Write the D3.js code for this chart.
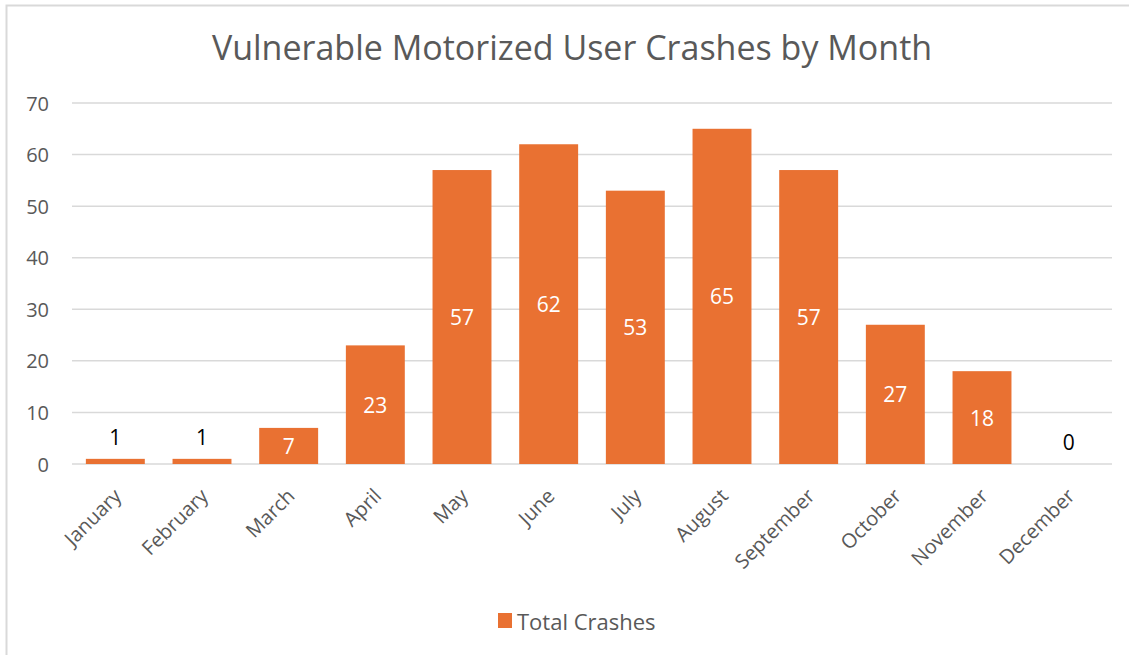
<!DOCTYPE html>
<html>
<head>
<meta charset="utf-8">
<script src="https://cdn.jsdelivr.net/npm/d3@7"></script>
<style>
  body { margin: 0; background: #fff; }
  svg { display: block; font-family: "Open Sans", "Liberation Sans", sans-serif; }
</style>
</head>
<body>
<div class="chart"></div>
<script>
// data
const months = ["January", "February", "March", "April", "May", "June",
  "July", "August", "September", "October", "November", "December"];
const crashes = [1, 1, 7, 23, 57, 62, 53, 65, 57, 27, 18, 0];
const yTicks = [0, 10, 20, 30, 40, 50, 60, 70];
const seriesName = "Total Crashes";
const title = "Vulnerable Motorized User Crashes by Month";

const W = 1129, H = 655;
const margin = { top: 103, right: 17, bottom: 191, left: 72 };
const width = W - margin.left - margin.right,
  height = H - margin.top - margin.bottom;
const barColor = "#e97132";

const svg = d3.select(".chart").append("svg")
  .attr("width", W)
  .attr("height", H);

// chart frame (only top and left edges fall inside the view)
svg.append("rect")
  .attr("x", 6.5).attr("y", 5.5)
  .attr("width", W + 20).attr("height", H + 20)
  .attr("fill", "none")
  .attr("stroke", "#d9d9d9")
  .attr("stroke-width", 2);

svg.append("text")
  .attr("x", 572)
  .attr("y", 60)
  .attr("text-anchor", "middle")
  .attr("font-size", "34px")
  .attr("fill", "#595959")
  .text(title);

const x = d3.scaleBand().domain(months).range([0, width]).paddingInner(0.32).paddingOuter(0.16);
const y = d3.scaleLinear().domain([0, 70]).range([height, 0]);

const g = svg.append("g")
  .attr("transform", "translate(" + margin.left + "," + margin.top + ")");

// gridlines
g.append("g")
  .selectAll("line")
  .data(yTicks)
  .enter()
  .append("line")
  .attr("x1", 0).attr("x2", width)
  .attr("y1", d => y(d)).attr("y2", d => y(d))
  .attr("stroke", "#d9d9d9")
  .attr("stroke-width", 1.5);

// y tick labels
g.append("g")
  .selectAll("text")
  .data(yTicks)
  .enter()
  .append("text")
  .attr("x", -23)
  .attr("y", d => y(d))
  .attr("text-anchor", "end")
  .attr("dominant-baseline", "central")
  .attr("font-size", "20px")
  .attr("fill", "#595959")
  .text(d => d);

// bars
const data = months.map((m, i) => ({ month: m, value: crashes[i] }));
g.append("g")
  .selectAll("rect")
  .data(data)
  .enter()
  .append("rect")
  .attr("x", d => x(d.month))
  .attr("y", d => y(d.value))
  .attr("width", x.bandwidth())
  .attr("height", d => height - y(d.value))
  .attr("fill", barColor);

// data labels: inside bar when it fits, above otherwise
g.append("g")
  .selectAll("text")
  .data(data)
  .enter()
  .append("text")
  .attr("x", d => x(d.month) + x.bandwidth() / 2)
  .attr("y", d => d.value >= 5 ? (y(d.value) + height) / 2 : y(d.value) - 22)
  .attr("text-anchor", "middle")
  .attr("dominant-baseline", "central")
  .attr("font-size", "21px")
  .attr("fill", d => d.value >= 5 ? "#ffffff" : "#000000")
  .text(d => d.value);

// x labels, rotated
g.append("g")
  .selectAll("text")
  .data(months)
  .enter()
  .append("text")
  .attr("transform", d => "translate(" + (x(d) + x.bandwidth() / 2 + 2) + "," + (height + 28) + ") rotate(-45)")
  .attr("text-anchor", "end")
  .attr("dominant-baseline", "central")
  .attr("font-size", "20px")
  .attr("fill", "#595959")
  .text(d => d);

// legend
const legend = svg.append("g").attr("transform", "translate(498,613)");
legend.append("rect")
  .attr("width", 14).attr("height", 15)
  .attr("fill", barColor);
legend.append("text")
  .attr("x", 19).attr("y", 8)
  .attr("dominant-baseline", "central")
  .attr("font-size", "22px")
  .attr("fill", "#595959")
  .text(seriesName);
</script>
</body>
</html>
